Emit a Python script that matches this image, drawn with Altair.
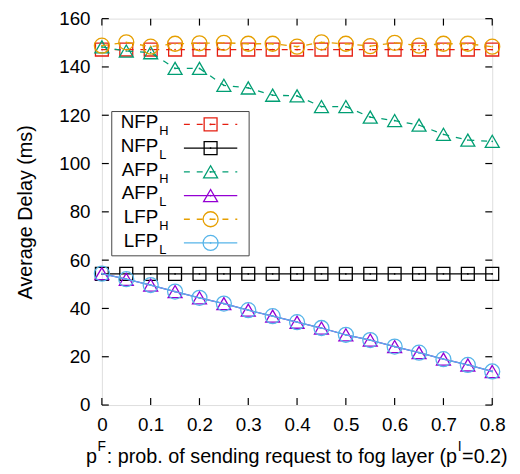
import altair as alt
import pandas as pd

# ---------------- data ----------------
x_vals = [0.0, 0.05, 0.1, 0.15, 0.2, 0.25, 0.3, 0.35, 0.4, 0.45, 0.5, 0.55, 0.6, 0.65, 0.7, 0.75, 0.8]

nfp_h = [147.2, 147.2, 147.2, 147.2, 147.2, 147.2, 147.2, 147.2, 147.2, 147.2, 147.2, 147.2, 147.2, 147.2, 147.2, 147.2, 147.2]
nfp_l = [54.3, 54.3, 54.3, 54.3, 54.3, 54.3, 54.3, 54.3, 54.3, 54.3, 54.3, 54.3, 54.3, 54.3, 54.3, 54.3, 54.3]
afp_h = [148.3, 146.6, 145.9, 139.4, 139.4, 132.4, 131.3, 128.3, 128.0, 123.6, 123.6, 119.2, 117.8, 115.9, 112.1, 109.7, 109.2]
afp_l = [54.4, 52.1, 49.7, 47.0, 44.4, 42.0, 39.3, 36.8, 34.3, 31.9, 29.1, 26.9, 24.2, 21.7, 19.0, 16.6, 13.9]
lfp_h = [148.8, 150.2, 148.4, 149.6, 149.8, 150.0, 149.6, 149.6, 148.4, 150.2, 149.6, 148.6, 150.0, 148.8, 149.6, 149.6, 148.4]
lfp_l = [54.4, 52.1, 49.7, 47.0, 44.4, 42.0, 39.3, 36.8, 34.3, 31.9, 29.1, 26.9, 24.2, 21.7, 19.0, 16.6, 13.9]

series_values = [nfp_h, nfp_l, afp_h, afp_l, lfp_h, lfp_l]
main_labels = ["NFP", "NFP", "AFP", "AFP", "LFP", "LFP"]
sub_labels = ["H", "L", "H", "L", "H", "L"]

x_ticks = [0, 0.1, 0.2, 0.3, 0.4, 0.5, 0.6, 0.7, 0.8]
y_ticks = [0, 20, 40, 60, 80, 100, 120, 140, 160]

y_title = "Average Delay (ms)"
x_title_parts = ["p", "F", ": prob. of sending request to fog layer (p", "I", "=0.2)"]

# ---------------- styles / layout ----------------
colors = ["#e51e10", "#000000", "#009e73", "#9400d3", "#e69f00", "#56b4e9"]
shapes = ["square", "square", "triangle-up", "triangle-up", "circle", "circle"]
sizes = [170, 170, 200, 200, 230, 230]
dashed = [True, False, True, False, True, False]

FONT = "Liberation Sans"
W, H = 395, 391
XMAX, YMAX = 0.8, 160.0


def px_x(p):  # horizontal offset in px from plot left -> data units
    return p * XMAX / W


def px_y(p):  # vertical offset in px upward from plot bottom -> data units
    return p * YMAX / H


xs = alt.Scale(domain=[0, XMAX], nice=False, zero=False)
ys = alt.Scale(domain=[0, YMAX], nice=False)

x_axis = alt.Axis(values=x_ticks, labelExpr="datum.value == 0 ? '0' : format(datum.value, '.1f')",
                  ticks=False, domain=False, grid=False, labelFont=FONT, labelFontSize=19,
                  labelColor="black", labelPadding=11, labelFlush=False, labelOverlap=False, title=None)
y_axis = alt.Axis(values=y_ticks, ticks=False, domain=False, grid=False, labelFont=FONT,
                  labelFontSize=19, labelColor="black", labelPadding=12, labelFlush=False,
                  labelOverlap=False, title=y_title, titleFont=FONT, titleFontSize=20,
                  titleFontWeight="normal", titleColor="black", titlePadding=24)


def X(f):
    return alt.X(f, type="quantitative", scale=xs, axis=x_axis)


def Y(f):
    return alt.Y(f, type="quantitative", scale=ys, axis=y_axis)


layers = []

# inward ticks (mirrored on all four sides)
tl_x = px_x(7)
tl_y = px_y(7)
tick_b = pd.DataFrame({"x": x_ticks, "y": [0.0] * len(x_ticks), "y2": [tl_y] * len(x_ticks)})
tick_t = pd.DataFrame({"x": x_ticks, "y": [YMAX] * len(x_ticks), "y2": [YMAX - tl_y] * len(x_ticks)})
tick_l = pd.DataFrame({"y": y_ticks, "x": [0.0] * len(y_ticks), "x2": [tl_x] * len(y_ticks)})
tick_r = pd.DataFrame({"y": y_ticks, "x": [XMAX] * len(y_ticks), "x2": [XMAX - tl_x] * len(y_ticks)})
for df in (tick_b, tick_t):
    layers.append(alt.Chart(df).mark_rule(color="black", strokeWidth=1.2).encode(
        x=X("x"), y=Y("y"), y2=alt.Y2("y2")))
for df in (tick_l, tick_r):
    layers.append(alt.Chart(df).mark_rule(color="black", strokeWidth=1.2).encode(
        y=Y("y"), x=X("x"), x2=alt.X2("x2")))

# series
for i in range(6):
    df = pd.DataFrame({"x": x_vals, "y": series_values[i]})
    lk = dict(color=colors[i], strokeWidth=1.3)
    if dashed[i]:
        lk["strokeDash"] = [6, 7]
    layers.append(alt.Chart(df).mark_line(**lk).encode(x=X("x"), y=Y("y")))
    layers.append(alt.Chart(df).mark_point(shape=shapes[i], size=sizes[i], filled=False,
                                           color=colors[i], strokeWidth=1.3, opacity=1).encode(
        x=X("x"), y=Y("y")))
    layers.append(alt.Chart(df).mark_point(shape="circle", size=3, filled=True,
                                           color=colors[i], opacity=1).encode(x=X("x"), y=Y("y")))

# legend (manual, to allow subscripts)
box = pd.DataFrame({"x": [px_x(10)], "x2": [px_x(149)], "y": [px_y(297)], "y2": [px_y(151)]})
layers.append(alt.Chart(box).mark_rect(fill="white", stroke="#444444", strokeWidth=1).encode(
    x=X("x"), x2=alt.X2("x2"), y=Y("y"), y2=alt.Y2("y2")))

row_px = [284, 260, 236, 212, 188, 164]
for i in range(6):
    ry = px_y(row_px[i])
    seg = pd.DataFrame({"x": [px_x(83)], "x2": [px_x(137)], "y": [ry]})
    rk = dict(color=colors[i], strokeWidth=1.3)
    if dashed[i]:
        rk["strokeDash"] = [6, 7]
    layers.append(alt.Chart(seg).mark_rule(**rk).encode(x=X("x"), x2=alt.X2("x2"), y=Y("y")))
    pt = pd.DataFrame({"x": [px_x(110)], "y": [ry]})
    layers.append(alt.Chart(pt).mark_point(shape=shapes[i], size=sizes[i], filled=False,
                                           color=colors[i], strokeWidth=1.3, opacity=1).encode(
        x=X("x"), y=Y("y")))
    layers.append(alt.Chart(pt).mark_point(shape="circle", size=3, filled=True,
                                           color=colors[i], opacity=1).encode(x=X("x"), y=Y("y")))
    tm = pd.DataFrame({"x": [px_x(57)], "y": [ry], "t": [main_labels[i]]})
    layers.append(alt.Chart(tm).mark_text(align="right", baseline="middle", dy=-2, font=FONT,
                                          fontSize=19, color="black").encode(
        x=X("x"), y=Y("y"), text="t:N"))
    ts = pd.DataFrame({"x": [px_x(58)], "y": [ry], "t": [sub_labels[i]]})
    layers.append(alt.Chart(ts).mark_text(align="left", baseline="middle", dy=7, font=FONT,
                                          fontSize=13, color="black").encode(
        x=X("x"), y=Y("y"), text="t:N"))

# x-axis title with superscripts
title_x_px = [-16, -4.5, 5, 360, 364.5]
title_sizes = [20, 14, 20, 14, 20]
title_y_px = [-59, -46, -59, -46, -59]
for i in range(5):
    td = pd.DataFrame({"x": [px_x(title_x_px[i])], "y": [px_y(title_y_px[i])], "t": [x_title_parts[i]]})
    layers.append(alt.Chart(td).mark_text(align="left", baseline="alphabetic", font=FONT,
                                          fontSize=title_sizes[i], color="black").encode(
        x=X("x"), y=Y("y"), text="t:N"))

chart = alt.layer(*layers).properties(
    width=W, height=H,
    autosize=alt.AutoSizeParams(type="none"),
    padding={"left": 95, "top": 8, "right": 20, "bottom": 66},
).configure_view(stroke="black", strokeWidth=1.5).configure(background="white")

chart.save("out.html", embed_options={"renderer": "svg", "actions": False})
